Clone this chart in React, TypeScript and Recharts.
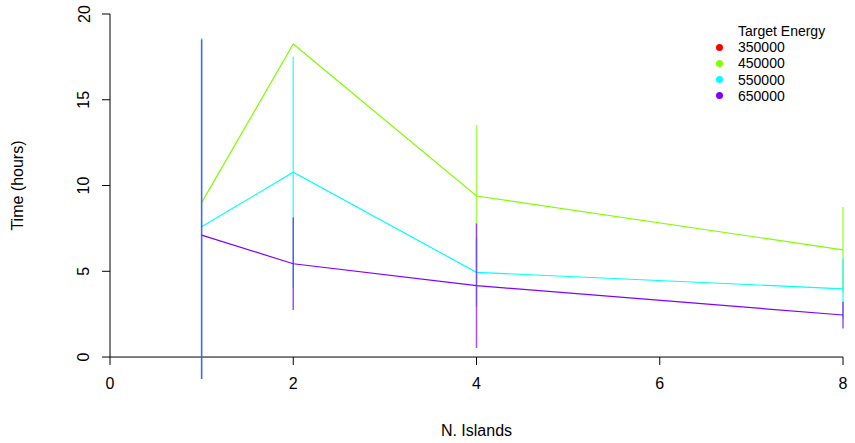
import React from "react";
import {
  LineChart,
  Line,
  XAxis,
  YAxis,
  ErrorBar,
  ReferenceLine,
  ReferenceDot,
  Legend,
  Label,
} from "recharts";

const FONT = "'Liberation Sans', Arial, Helvetica, sans-serif";

const islands = [1, 2, 4, 8];
const energies = ["350000", "450000", "550000", "650000"];
const energyColors = ["#FF0000", "#80FF00", "#00FFFF", "#8000FF"];

// mean run time in hours for each island count (no runs for 350000)
const hours350000: (number | null)[] = [null, null, null, null];
const hours450000 = [9.0, 18.25, 9.39, 6.25];
const hours550000 = [7.6, 10.77, 4.94, 3.98];
const hours650000 = [7.11, 5.44, 4.16, 2.45];

// spread of the run time as [below, above] the mean; the 1-island bars
// are cut off at the bottom edge of the plotting region
const err450000 = [[0, 0], [0, 0], [4.14, 4.14], [2.5, 2.5]];
const err550000 = [[8.88, 11.0], [6.74, 6.74], [2.0, 2.0], [1.78, 1.78]];
const err650000 = [[8.39, 11.4], [2.7, 2.7], [3.63, 3.63], [0.78, 0.78]];

const xTicks = [0, 2, 4, 6, 8];
const yTicks = [0, 5, 10, 15, 20];

// y range of the plotting region
const Y_MIN = -1.28;
const Y_MAX = 20;

const rows = islands.map((n, i) => ({
  islands: n,
  t350000: hours350000[i],
  t450000: hours450000[i],
  e450000: err450000[i],
  t550000: hours550000[i],
  e550000: err550000[i],
  t650000: hours650000[i],
  e650000: err650000[i],
}));

const YTick = (props: any) => {
  const { x, y, payload } = props;
  return (
    <text
      x={x}
      y={y}
      transform={`rotate(-90, ${x}, ${y})`}
      textAnchor="middle"
      dominantBaseline="central"
      fontSize={16}
      fontFamily={FONT}
      fill="#000"
    >
      {payload.value}
    </text>
  );
};

// tick mark + label hanging below the y = 0 axis line
const XTickMark = ({ cx, cy, value }: { cx: number; cy: number; value: number }) => (
  <g>
    <line x1={cx} y1={cy} x2={cx} y2={cy + 8} stroke="#000" strokeWidth={1} />
    <text
      x={cx}
      y={cy + 26}
      textAnchor="middle"
      dominantBaseline="central"
      fontSize={16}
      fontFamily={FONT}
      fill="#000"
    >
      {value}
    </text>
  </g>
);

const EnergyLegend = () => (
  <div style={{ fontFamily: FONT, fontSize: 14, color: "#000", lineHeight: "16.2px" }}>
    <div style={{ paddingLeft: 26, height: 16.2 }}>Target Energy</div>
    {energies.map((e, i) => (
      <div key={e} style={{ display: "flex", alignItems: "center", height: 16.2 }}>
        <span
          style={{
            display: "inline-block",
            width: 7,
            height: 7,
            borderRadius: "50%",
            background: energyColors[i],
            marginLeft: 3.5,
            marginRight: 15.5,
          }}
        />
        <span>{e}</span>
      </div>
    ))}
  </div>
);

export default function App() {
  return (
    <>
      <style>{"body{margin:0}"}</style>
      <LineChart
        width={855}
        height={443}
        data={rows}
        margin={{ top: 14, right: 12, bottom: 0, left: 0 }}
      >
        <XAxis
          dataKey="islands"
          type="number"
          domain={[0, 8]}
          ticks={xTicks}
          axisLine={false}
          tickLine={false}
          tick={false}
          height={64}
        >
          <Label
            content={(p: any) => (
              <text
                x={p.viewBox.x + p.viewBox.width / 2}
                y={p.viewBox.y + 51}
                textAnchor="middle"
                dominantBaseline="central"
                fontSize={16}
                fontFamily={FONT}
                fill="#000"
              >
                N. Islands
              </text>
            )}
          />
        </XAxis>
        <YAxis
          type="number"
          domain={[Y_MIN, Y_MAX]}
          allowDataOverflow
          ticks={yTicks}
          width={110}
          axisLine={false}
          tickLine={{ stroke: "#000" }}
          tickSize={8}
          tickMargin={18}
          tick={<YTick />}
        >
          <Label
            content={(p: any) => {
              const cx = p.viewBox.x + 18;
              const cy = p.viewBox.y + (p.viewBox.height * (Y_MAX - 10)) / (Y_MAX - Y_MIN);
              return (
                <text
                  x={cx}
                  y={cy}
                  transform={`rotate(-90, ${cx}, ${cy})`}
                  textAnchor="middle"
                  dominantBaseline="central"
                  fontSize={16}
                  fontFamily={FONT}
                  fill="#000"
                >
                  Time (hours)
                </text>
              );
            }}
          />
        </YAxis>

        {/* axis lines at x = 0 and y = 0 */}
        <ReferenceLine segment={[{ x: 0, y: 0 }, { x: 0, y: 20 }]} stroke="#000" strokeWidth={1} />
        <ReferenceLine segment={[{ x: 0, y: 0 }, { x: 8, y: 0 }]} stroke="#000" strokeWidth={1} />
        {xTicks.map((t) => (
          <ReferenceDot
            key={t}
            x={t}
            y={0}
            r={0}
            shape={(p: any) => <XTickMark cx={p.cx} cy={p.cy} value={t} />}
          />
        ))}

        <Line
          dataKey="t350000"
          stroke={energyColors[0]}
          strokeWidth={1.2}
          dot={false}
          isAnimationActive={false}
        />
        <Line
          dataKey="t450000"
          stroke={energyColors[1]}
          strokeWidth={1.2}
          dot={false}
          isAnimationActive={false}
        >
          <ErrorBar dataKey="e450000" direction="y" width={0} stroke={energyColors[1]} strokeOpacity={0.7} strokeWidth={1.5} />
        </Line>
        <Line
          dataKey="t550000"
          stroke={energyColors[2]}
          strokeWidth={1.2}
          dot={false}
          isAnimationActive={false}
        >
          <ErrorBar dataKey="e550000" direction="y" width={0} stroke={energyColors[2]} strokeOpacity={0.7} strokeWidth={1.5} />
        </Line>
        <Line
          dataKey="t650000"
          stroke={energyColors[3]}
          strokeWidth={1.2}
          dot={false}
          isAnimationActive={false}
        >
          <ErrorBar dataKey="e650000" direction="y" width={0} stroke={energyColors[3]} strokeOpacity={0.7} strokeWidth={1.5} />
        </Line>

        <Legend
          layout="vertical"
          align="center"
          verticalAlign="middle"
          wrapperStyle={{ top: 23, left: 712, width: "auto", height: "auto" }}
          content={() => <EnergyLegend />}
        />
      </LineChart>
    </>
  );
}
